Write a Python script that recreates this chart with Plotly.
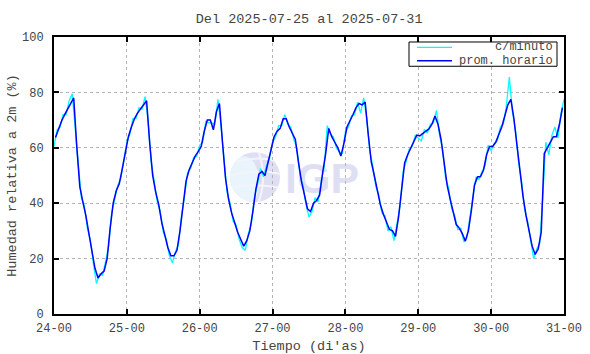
import base64
import pandas as pd
import plotly.graph_objects as go

# ---------------- data ----------------
day_start = "2025-07-24"
day_ticks = ["2025-07-24", "2025-07-25", "2025-07-26", "2025-07-27",
             "2025-07-28", "2025-07-29", "2025-07-30", "2025-07-31"]

# hourly mean (plotted at the middle of each hour)
prom_24 = [63.7, 67, 69.7, 72, 74, 76, 78, 60.5, 46, 40.5, 35.5, 29, 22, 16.5, 13, 14.5, 15.5, 20, 31, 40, 44.5, 47, 52.5, 58.5]
prom_25 = [64, 67.5, 70.5, 72.5, 74, 75.5, 77, 62, 50, 44, 39.5, 33, 28.5, 24, 21, 21, 23, 30, 39, 48, 52, 54.5, 57, 58.6]
prom_26 = [60.5, 66, 70, 70, 66.5, 73, 76, 62, 49, 41.5, 36.5, 33, 29.5, 27, 24.5, 26.5, 30, 37, 45, 50.5, 51.5, 50, 55, 59.5]
prom_27 = [64, 66, 67, 70.5, 70.5, 67.5, 65.5, 63, 55, 48, 43, 38, 37, 40, 41, 43, 51, 58, 67, 64, 62, 60, 57, 61.6]
prom_28 = [67.5, 69.5, 72, 74.5, 76, 75.5, 76.5, 65, 55, 50, 44.5, 39.5, 36, 33, 30.5, 30, 28, 35, 45.5, 54.5, 57.5, 60, 62.5, 64.6]
prom_29 = [64.3, 65, 66, 66.8, 68.5, 71.5, 68.5, 63, 54, 46.5, 41.5, 36.5, 32.3, 31, 29, 26.3, 30, 37.5, 46.5, 49.5, 49.6, 52, 57.5, 60.5]
prom_30 = [60.5, 62, 65, 67.5, 71.5, 75.5, 77.5, 70.5, 61, 51.5, 42.5, 35.5, 30, 24.5, 21.5, 23.5, 29.5, 58, 60, 62, 64, 64, 68.5, 74.5]

min_24 = [60.5, 66.5, 67.5, 72, 72, 77, 79.5, 68, 54, 42, 39, 31, 26.5, 18, 11, 14.5, 14, 19, 24.5, 36.5, 41, 46.5, 49, 56]
min_25 = [62, 65, 70.5, 70.5, 74.5, 74, 78.5, 70, 55, 48, 40.5, 37, 29.5, 27, 21, 18.5, 22.5, 25, 35.5, 42.5, 51, 52.5, 56.5, 57]
min_26 = [61, 62, 69.5, 69, 69, 68.5, 77.5, 68, 57, 44, 40, 33.5, 32, 27, 24, 23, 29, 32.5, 42, 46.5, 52.5, 49.5, 53.5, 56.5]
min_27 = [62, 64, 68, 68, 72, 68.5, 67.5, 63, 60, 50.5, 46.5, 39.5, 35, 37, 42, 40.5, 48, 53, 68, 65, 64, 60, 58.5, 58]
min_28 = [66, 67.5, 71.5, 72, 76.5, 72.5, 78, 71, 59, 53.5, 46, 43, 36.5, 35.5, 30, 31.5, 26.5, 32.5, 39, 51.5, 55, 59.5, 60.5, 64.5]
min_29 = [63.5, 62.5, 66.5, 65.5, 68.5, 69, 73.5, 64.5, 59.5, 49, 45.5, 38, 35.5, 30.5, 31, 26, 27.5, 34.5, 41, 49.5, 48.5, 51.5, 53.5, 61]
min_30 = [59, 61.5, 62.5, 67.5, 68.5, 75, 85.5, 73, 66.5, 55, 48, 38, 33.5, 26.5, 20, 23.5, 25.5, 42, 62, 57.5, 64.5, 67.5, 63.5, 72.5]
min_end = [77.5]

series_names = ["c/minuto", "prom. horario"]
series_colors = ["#00ffff", "#0000ff"]
tick_text = ["24-00", "25-00", "26-00", "27-00", "28-00", "29-00", "30-00", "31-00"]
y_ticks = [0, 20, 40, 60, 80, 100]

prom = prom_24 + prom_25 + prom_26 + prom_27 + prom_28 + prom_29 + prom_30
minute = min_24 + min_25 + min_26 + min_27 + min_28 + min_29 + min_30 + min_end
prom_x = pd.date_range(day_start + " 00:30", periods=len(prom), freq="h")
min_x = pd.date_range(day_start + " 00:00", periods=len(minute), freq="h")

MONO = "Liberation Mono, Courier New, monospace"
TXT = "#444"

fig = go.Figure()
fig.add_trace(go.Scatter(x=min_x, y=minute, mode="lines", name=series_names[0],
                         line=dict(color=series_colors[0], width=1.3)))
fig.add_trace(go.Scatter(x=prom_x, y=prom, mode="lines", name=series_names[1],
                         line=dict(color=series_colors[1], width=1.5)))

# IGP watermark (svg image under the data)
svg = """<svg xmlns='http://www.w3.org/2000/svg' width='140' height='60' viewBox='0 0 140 60'>
<defs><clipPath id='c'><circle cx='27' cy='27' r='25'/></clipPath></defs>
<circle cx='27' cy='27' r='25' fill='#dfdff3'/>
<g clip-path='url(#c)'>
<ellipse cx='16' cy='32' rx='15' ry='26' fill='#e9f4fd'/>
<path d='M0,14 Q27,4 54,12' stroke='#f4f4fb' stroke-width='2' fill='none'/>
<path d='M0,26 Q27,18 54,24' stroke='#f4f4fb' stroke-width='2' fill='none'/>
<path d='M0,38 Q27,32 54,38' stroke='#f4f4fb' stroke-width='2' fill='none'/>
<path d='M30,0 Q40,27 30,54' stroke='#f4f4fb' stroke-width='2' fill='none'/>
</g>
<text x='57' y='43' font-family='Liberation Sans, Arial' font-weight='bold' font-size='43' fill='#dfdff3'>IGP</text>
</svg>"""
src = "data:image/svg+xml;base64," + base64.b64encode(svg.encode()).decode()
fig.add_layout_image(dict(source=src, xref="paper", yref="paper",
                          x=0.3412, y=0.5914, sizex=0.2745, sizey=0.2164,
                          xanchor="left", yanchor="top", sizing="stretch",
                          layer="below"))

# compact gnuplot-style key box (top right)
fig.add_shape(type="rect", xref="paper", yref="paper", x0=0.6961, x1=0.9863,
              y0=0.8943, y1=0.9820, line=dict(color="black", width=1),
              fillcolor="white", layer="above")
for name, color, yk, w in zip(series_names, series_colors, [0.9629, 0.9142], [1.2, 1.6]):
    fig.add_shape(type="line", xref="paper", yref="paper", x0=0.7118, x1=0.7804,
                  y0=yk, y1=yk, line=dict(color=color, width=w), layer="above")
    fig.add_annotation(xref="paper", yref="paper", x=0.9824, y=yk, text=name,
                       xanchor="right", yanchor="middle", showarrow=False,
                       font=dict(family=MONO, size=12, color=TXT))

axis_common = dict(showline=True, linecolor="black", linewidth=2, mirror="ticks",
                   ticks="inside", ticklen=5, tickwidth=1.5, tickcolor="black",
                   showgrid=True, gridcolor="#b4b4b4", gridwidth=1, griddash="dot",
                   zeroline=False, automargin=False,
                   tickfont=dict(family=MONO, size=12, color=TXT))

fig.update_xaxes(range=[day_ticks[0], day_ticks[-1]], tickvals=day_ticks,
                 ticktext=tick_text, ticklabelstandoff=2,
                 title=dict(text="Tiempo (di'as)", font=dict(family=MONO, size=13.5, color=TXT),
                            standoff=6),
                 **axis_common)
fig.update_yaxes(range=[0, 100], tickvals=y_ticks, ticklabelstandoff=6,
                 title=dict(text="Humedad relativa a 2m (%)", font=dict(family=MONO, size=13.5, color=TXT),
                            standoff=2),
                 **axis_common)

fig.update_layout(
    width=590, height=354,
    margin=dict(l=54, r=26, t=37, b=40),
    paper_bgcolor="white", plot_bgcolor="white",
    title=dict(text="Del 2025-07-25 al 2025-07-31", x=0.524, xanchor="center",
               y=1 - 18 / 354, yanchor="middle",
               font=dict(family=MONO, size=13.5, color=TXT)),
    showlegend=False,
)

fig.write_html("out.html")
